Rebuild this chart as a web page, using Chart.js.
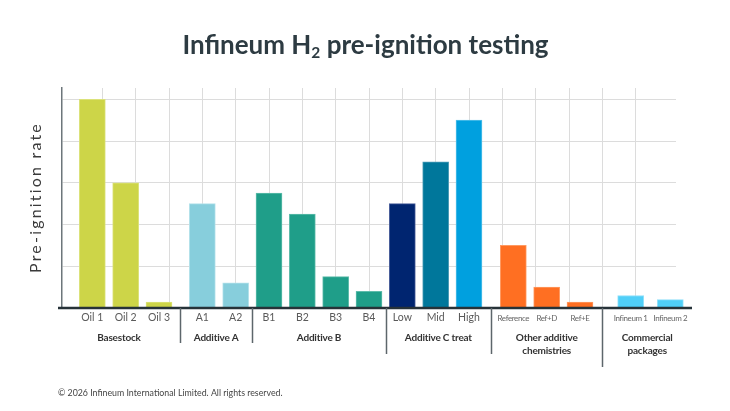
<!DOCTYPE html>
<html>
<head>
<meta charset="utf-8">
<script src="https://cdn.jsdelivr.net/npm/chart.js@4"></script>
<style>
  html, body { margin: 0; padding: 0; background: #fff; }
  #wrap { width: 730px; height: 411px; position: relative; }
</style>
</head>
<body>
<div id="wrap"><canvas id="h2Chart"></canvas></div>
<script>
// ========== Data ==========
const labels = ['Oil 1', 'Oil 2', 'Oil 3', 'A1', 'A2', 'B1', 'B2', 'B3', 'B4', 'Low', 'Mid', 'High', 'Reference', 'Ref+D', 'Ref+E', 'Infineum 1', 'Infineum 2'];
const rates = [5.0, 3.0, 0.14, 2.5, 0.6, 2.75, 2.25, 0.75, 0.4, 2.5, 3.5, 4.5, 1.5, 0.5, 0.14, 0.3, 0.2];
const barGroup = [0, 0, 0, 1, 1, 2, 2, 2, 2, 3, 3, 3, 4, 4, 4, 5, 5];
const groups = ['Basestock', 'Additive A', 'Additive B', 'Additive C treat', 'Other additive\nchemistries', 'Commercial\npackages'];
const yTicks = [0, 1, 2, 3, 4, 5];

// ========== Layout (x-scale units, one unit = one vertical gridline) ==========
const slots = [-0.3, 0.7, 1.7, 3, 4, 5, 6, 7, 8, 9, 10, 11, 12.33, 13.33, 14.33, 15.85, 17.04];
const groupBounds = [-1.33, 2.33, 4.5, 8.5, 11.66, 15, 17.69];
const sepDepth = [35, 35, 46, 46, 59];
const xGrid = Array.from({ length: 17 }, (_, i) => i);

const fills = ['#cdd548', '#cdd548', '#cdd548', '#87cedc', '#87cedc', '#1f9e89', '#1f9e89', '#1f9e89', '#1f9e89',
  '#002570', '#00779b', '#00a0df', '#ff6f22', '#ff6f22', '#ff6f22', '#50cff8', '#50cff8'];
const edges = ['#dbe27a', '#dbe27a', '#dbe27a', '#b3e1ea', '#b3e1ea', '#5fbcab', '#5fbcab', '#5fbcab', '#5fbcab',
  '#4a5f9a', '#4c9cb6', '#55c0ea', '#ff9a62', '#ff9a62', '#ff9a62', '#8fe0fa', '#8fe0fa'];

const FONT = 'Lato, "Open Sans", sans-serif';

const decor = {
  id: 'decor',
  afterDraw(chart) {
    const { ctx, chartArea, scales: { x, y } } = chart;
    const y0 = y.getPixelForValue(0);
    ctx.save();

    // x axis line
    ctx.strokeStyle = '#263238';
    ctx.lineWidth = 2.5;
    ctx.beginPath();
    ctx.moveTo(x.getPixelForValue(groupBounds[0]), y0);
    ctx.lineTo(x.getPixelForValue(groupBounds[groupBounds.length - 1]), y0);
    ctx.stroke();

    // bar labels
    ctx.textAlign = 'center';
    ctx.textBaseline = 'middle';
    labels.forEach((l, i) => {
      const small = barGroup[i] >= 4;
      ctx.font = (small ? '8px ' : '10.5px ') + FONT;
      ctx.letterSpacing = small ? '-0.4px' : '0px';
      ctx.fillStyle = small ? '#666' : '#5a5a5a';
      ctx.fillText(l, x.getPixelForValue(slots[i]), y0 + 10);
    });
    ctx.letterSpacing = '0px';

    // group separators
    ctx.strokeStyle = '#5d666b';
    ctx.lineWidth = 1.5;
    for (let i = 1; i < groupBounds.length - 1; i++) {
      const px = Math.round(x.getPixelForValue(groupBounds[i])) + 0.5;
      ctx.beginPath();
      ctx.moveTo(px, y0);
      ctx.lineTo(px, y0 + sepDepth[i - 1]);
      ctx.stroke();
    }

    // group names
    ctx.font = 'bold 10px ' + FONT;
    ctx.letterSpacing = '-0.2px';
    ctx.fillStyle = '#333';
    groups.forEach((g, i) => {
      const cx = (x.getPixelForValue(groupBounds[i]) + x.getPixelForValue(groupBounds[i + 1])) / 2;
      g.split('\n').forEach((line, k) => ctx.fillText(line, cx, y0 + 30 + k * 12.5));
    });
    ctx.letterSpacing = '0px';

    // y axis title
    ctx.save();
    ctx.translate(41, (chartArea.top + chartArea.bottom) / 2 - 0.5);
    ctx.rotate(-Math.PI / 2);
    ctx.font = '16px ' + FONT;
    ctx.letterSpacing = '2.2px';
    ctx.fillStyle = '#3a3a3a';
    ctx.textBaseline = 'alphabetic';
    ctx.fillText('Pre-ignition rate', 0, 0);
    ctx.restore();

    // title with subscript
    const parts = [['Infineum H', 'bold 26px ', 0], ['2', 'bold 15.5px ', 4], [' pre-ignition testing', 'bold 26px ', 0]];
    let total = 0;
    parts.forEach(p => { ctx.font = p[1] + FONT; total += ctx.measureText(p[0]).width; });
    let tx = 365.5 - total / 2;
    ctx.textAlign = 'left';
    ctx.textBaseline = 'alphabetic';
    ctx.fillStyle = '#2d3b42';
    parts.forEach(p => {
      ctx.font = p[1] + FONT;
      ctx.fillText(p[0], tx, 54 + p[2]);
      tx += ctx.measureText(p[0]).width;
    });

    // footer
    ctx.font = '8.8px ' + FONT;
    ctx.fillStyle = '#444';
    ctx.textBaseline = 'middle';
    ctx.fillText('\u00A9 2026 Infineum International Limited. All rights reserved.', 58, 393);
    ctx.restore();
  }
};

new Chart(document.getElementById('h2Chart'), {
  type: 'bar',
  data: {
    datasets: [{
      data: slots.map((s, i) => ({ x: s, y: rates[i] })),
      backgroundColor: fills,
      borderColor: edges,
      borderWidth: 1,
      barThickness: 26,
      clip: false
    }]
  },
  options: {
    responsive: true, maintainAspectRatio: false, animation: false,
    devicePixelRatio: 1,
    layout: { padding: { left: 62, right: 54, top: 88, bottom: 103 } },
    plugins: { legend: { display: false }, tooltip: { enabled: false } },
    scales: {
      x: {
        type: 'linear', min: -1.21, max: 17.21, offset: false,
        afterBuildTicks: s => { s.ticks = xGrid.map(v => ({ value: v })); },
        ticks: { display: false },
        grid: { color: '#dcdcdc', lineWidth: 1, drawTicks: false, offset: false },
        border: { display: false }
      },
      y: {
        min: 0, max: 5.27,
        afterBuildTicks: s => { s.ticks = yTicks.map(v => ({ value: v })); },
        ticks: { display: false },
        grid: { color: '#dcdcdc', lineWidth: 1, drawTicks: false },
        border: { display: true, color: '#6d767b', width: 1.5 }
      }
    }
  },
  plugins: [decor]
});
</script>
</body>
</html>
